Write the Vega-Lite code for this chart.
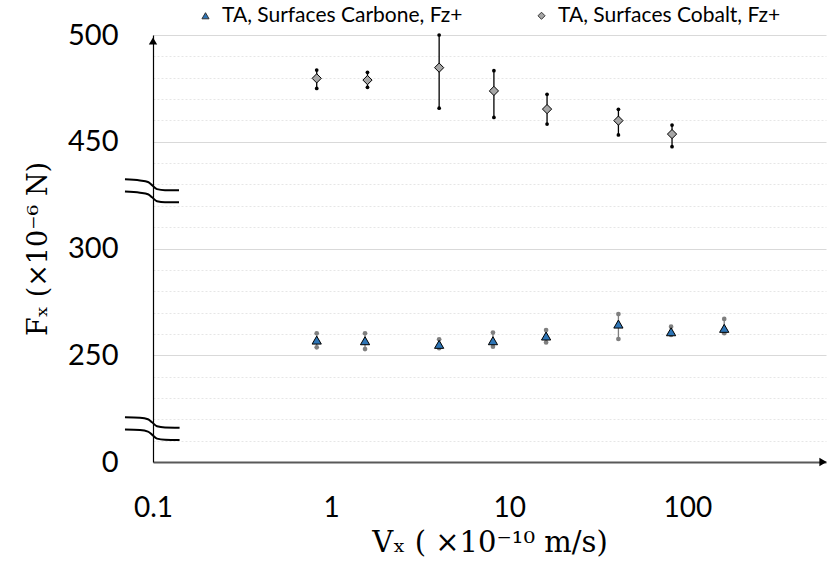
{
  "$schema": "https://vega.github.io/schema/vega-lite/v6.json",
  "width": 673,
  "height": 427,
  "autosize": {"type": "none"},
  "padding": {"left": 153, "top": 35, "right": 2, "bottom": 100},
  "background": "white",
  "config": {"view": {"stroke": null}, "font": "Lato"},
  "datasets": {
    "pts": [
      {"series": "TA, Surfaces Carbone, Fz+", "vx": 0.83, "fx": 257.1, "lo": 253.7, "hi": 260.3},
      {"series": "TA, Surfaces Carbone, Fz+", "vx": 1.55, "fx": 256.8, "lo": 252.9, "hi": 260.3},
      {"series": "TA, Surfaces Carbone, Fz+", "vx": 4.04, "fx": 255.1, "lo": 253.3, "hi": 257.5},
      {"series": "TA, Surfaces Carbone, Fz+", "vx": 8.1, "fx": 256.8, "lo": 254, "hi": 260.6},
      {"series": "TA, Surfaces Carbone, Fz+", "vx": 16.1, "fx": 259, "lo": 256, "hi": 261.8},
      {"series": "TA, Surfaces Carbone, Fz+", "vx": 41, "fx": 264.6, "lo": 257.6, "hi": 269.3},
      {"series": "TA, Surfaces Carbone, Fz+", "vx": 81, "fx": 261, "lo": 259.5, "hi": 263.4},
      {"series": "TA, Surfaces Carbone, Fz+", "vx": 161, "fx": 262.6, "lo": 260.3, "hi": 267},
      {"series": "TA, Surfaces Cobalt, Fz+", "vx": 0.83, "fx": 479.7, "lo": 475, "hi": 483.6},
      {"series": "TA, Surfaces Cobalt, Fz+", "vx": 1.6, "fx": 478.9, "lo": 475.5, "hi": 482.5},
      {"series": "TA, Surfaces Cobalt, Fz+", "vx": 4.04, "fx": 484.7, "lo": 465.7, "hi": 500},
      {"series": "TA, Surfaces Cobalt, Fz+", "vx": 8.2, "fx": 473.8, "lo": 461.4, "hi": 483.3},
      {"series": "TA, Surfaces Cobalt, Fz+", "vx": 16.3, "fx": 465.3, "lo": 458.3, "hi": 472.2},
      {"series": "TA, Surfaces Cobalt, Fz+", "vx": 41, "fx": 459.9, "lo": 453.2, "hi": 465.2},
      {"series": "TA, Surfaces Cobalt, Fz+", "vx": 82, "fx": 453.6, "lo": 443, "hi": 457.8}
    ],
    "brk": [
      {"id": "a1", "vx": 0.0696, "fx": 397.2}, {"id": "a1", "vx": 0.0845, "fx": 395.6}, {"id": "a1", "vx": 0.0937, "fx": 393.4}, {"id": "a1", "vx": 0.0987, "fx": 389.1}, {"id": "a1", "vx": 0.1053, "fx": 383.4}, {"id": "a1", "vx": 0.1168, "fx": 382}, {"id": "a1", "vx": 0.14, "fx": 382},
      {"id": "a2", "vx": 0.0696, "fx": 380}, {"id": "a2", "vx": 0.0845, "fx": 378.3}, {"id": "a2", "vx": 0.0937, "fx": 376.2}, {"id": "a2", "vx": 0.0987, "fx": 372}, {"id": "a2", "vx": 0.1053, "fx": 366.3}, {"id": "a2", "vx": 0.1168, "fx": 364.9}, {"id": "a2", "vx": 0.14, "fx": 364.9},
      {"id": "b1", "vx": 0.0696, "fx": 104.7}, {"id": "b1", "vx": 0.0845, "fx": 103.5}, {"id": "b1", "vx": 0.0937, "fx": 100}, {"id": "b1", "vx": 0.0987, "fx": 93}, {"id": "b1", "vx": 0.1053, "fx": 83.6}, {"id": "b1", "vx": 0.1168, "fx": 80.8}, {"id": "b1", "vx": 0.141, "fx": 80.3},
      {"id": "b2", "vx": 0.0696, "fx": 75.9}, {"id": "b2", "vx": 0.0845, "fx": 74.7}, {"id": "b2", "vx": 0.0937, "fx": 71.2}, {"id": "b2", "vx": 0.0987, "fx": 64.2}, {"id": "b2", "vx": 0.1053, "fx": 54.8}, {"id": "b2", "vx": 0.1168, "fx": 52}, {"id": "b2", "vx": 0.141, "fx": 51.5}
    ],
    "ends": [
      {"end": "top", "vx": 0.1, "fx": 500},
      {"end": "right", "vx": 600, "fx": 0}
    ]
  },
  "layer": [
    {
      "data": {"name": "pts"},
      "transform": [{"filter": "datum.series == 'TA, Surfaces Cobalt, Fz+'"}],
      "mark": {"type": "rule", "color": "black", "strokeWidth": 1.3},
      "encoding": {
        "x": {
          "field": "vx", "type": "quantitative",
          "scale": {"type": "log", "domain": [0.1, 600], "nice": false},
          "axis": {
            "title": "Vₓ ( ×10⁻¹⁰ m/s)",
            "titleFont": "DejaVu Serif", "titleFontSize": 29, "titleFontWeight": "normal", "titleColor": "black", "titlePadding": 6,
            "values": [0.1, 1, 10, 100], "format": "~g", "tickCount": 10,
            "labelFont": "Lato", "labelFontSize": 28, "labelColor": "black", "labelPadding": 32, "labelOverlap": false, "labelFlush": false,
            "ticks": false, "tickSize": 0, "grid": false,
            "domainColor": "#595959", "domainWidth": 2
          }
        },
        "y": {
          "field": "lo", "type": "quantitative",
          "scale": {"domain": [0, 250, 300, 450, 500], "range": [427, 320.25, 213.5, 106.75, 0], "zero": false, "nice": false},
          "axis": {
            "title": "Fₓ (×10⁻⁶ N)",
            "titleFont": "DejaVu Serif", "titleFontSize": 27, "titleFontWeight": "normal", "titleColor": "black", "titlePadding": 15,
            "values": [0, 50, 100, 150, 200, 250, 260, 270, 280, 290, 300, 330, 360, 390, 420, 450, 460, 470, 480, 490, 500],
            "tickCount": 50,
            "labelExpr": "indexof([0, 250, 300, 450, 500], datum.value) >= 0 ? datum.label : ''",
            "labelFont": "Lato", "labelFontSize": 29, "labelColor": "black", "labelPadding": 35, "labelOverlap": false, "labelFlush": false,
            "ticks": false, "tickSize": 0,
            "grid": true,
            "gridColor": {"condition": {"test": "indexof([250, 300, 450, 500], datum.value) >= 0", "value": "#d9d9d9"}, "value": "#e6e6e6"},
            "gridDash": {"condition": {"test": "indexof([250, 300, 450, 500], datum.value) >= 0", "value": []}, "value": [2, 2]},
            "gridWidth": 1,
            "domainColor": "black", "domainWidth": 1.2
          }
        },
        "y2": {"field": "hi"}
      }
    },
    {
      "data": {"name": "pts"},
      "transform": [
        {"filter": "datum.series == 'TA, Surfaces Cobalt, Fz+'"},
        {"fold": ["lo", "hi"], "as": ["end", "val"]}
      ],
      "mark": {"type": "point", "filled": true, "color": "black", "size": 14, "opacity": 1},
      "encoding": {
        "x": {"field": "vx", "type": "quantitative"},
        "y": {"field": "val", "type": "quantitative"}
      }
    },
    {
      "data": {"name": "pts"},
      "transform": [{"filter": "datum.series == 'TA, Surfaces Carbone, Fz+'"}],
      "mark": {"type": "rule", "color": "#7f7f7f", "strokeWidth": 1.3},
      "encoding": {
        "x": {"field": "vx", "type": "quantitative"},
        "y": {"field": "lo", "type": "quantitative"},
        "y2": {"field": "hi"}
      }
    },
    {
      "data": {"name": "pts"},
      "transform": [
        {"filter": "datum.series == 'TA, Surfaces Carbone, Fz+'"},
        {"fold": ["lo", "hi"], "as": ["end", "val"]}
      ],
      "mark": {"type": "point", "filled": true, "color": "#7f7f7f", "size": 22, "opacity": 1},
      "encoding": {
        "x": {"field": "vx", "type": "quantitative"},
        "y": {"field": "val", "type": "quantitative"}
      }
    },
    {
      "data": {"name": "pts"},
      "mark": {"type": "point", "filled": true, "stroke": "black", "strokeWidth": 1, "size": 85, "opacity": 1},
      "encoding": {
        "x": {"field": "vx", "type": "quantitative"},
        "y": {"field": "fx", "type": "quantitative"},
        "color": {
          "field": "series", "type": "nominal",
          "scale": {"domain": ["TA, Surfaces Carbone, Fz+", "TA, Surfaces Cobalt, Fz+"], "range": ["#2e75b6", "#a6a6a6"]},
          "legend": {
            "orient": "none", "legendX": 42, "legendY": -30, "direction": "horizontal", "title": null,
            "labelFont": "Lato", "labelFontSize": 21, "labelColor": "black", "labelOffset": 6, "labelLimit": 500,
            "symbolSize": 50, "symbolStrokeColor": "#333333", "symbolStrokeWidth": 1, "columnPadding": 68
          }
        },
        "shape": {
          "field": "series", "type": "nominal",
          "scale": {"domain": ["TA, Surfaces Carbone, Fz+", "TA, Surfaces Cobalt, Fz+"], "range": ["triangle-up", "diamond"]}
        }
      }
    },
    {
      "data": {"name": "brk"},
      "mark": {"type": "line", "color": "black", "strokeWidth": 2, "interpolate": "monotone", "clip": false},
      "encoding": {
        "x": {"field": "vx", "type": "quantitative"},
        "y": {"field": "fx", "type": "quantitative"},
        "detail": {"field": "id"}
      }
    },
    {
      "data": {"name": "ends"},
      "transform": [{"filter": "datum.end == 'top'"}],
      "mark": {"type": "point", "shape": "triangle-up", "filled": true, "color": "black", "size": 70, "opacity": 1, "yOffset": 6, "clip": false},
      "encoding": {
        "x": {"field": "vx", "type": "quantitative"},
        "y": {"field": "fx", "type": "quantitative"}
      }
    },
    {
      "data": {"name": "ends"},
      "transform": [{"filter": "datum.end == 'right'"}],
      "mark": {"type": "point", "shape": "triangle-right", "filled": true, "color": "black", "size": 70, "opacity": 1, "xOffset": -3, "clip": false},
      "encoding": {
        "x": {"field": "vx", "type": "quantitative"},
        "y": {"field": "fx", "type": "quantitative"}
      }
    }
  ]
}
